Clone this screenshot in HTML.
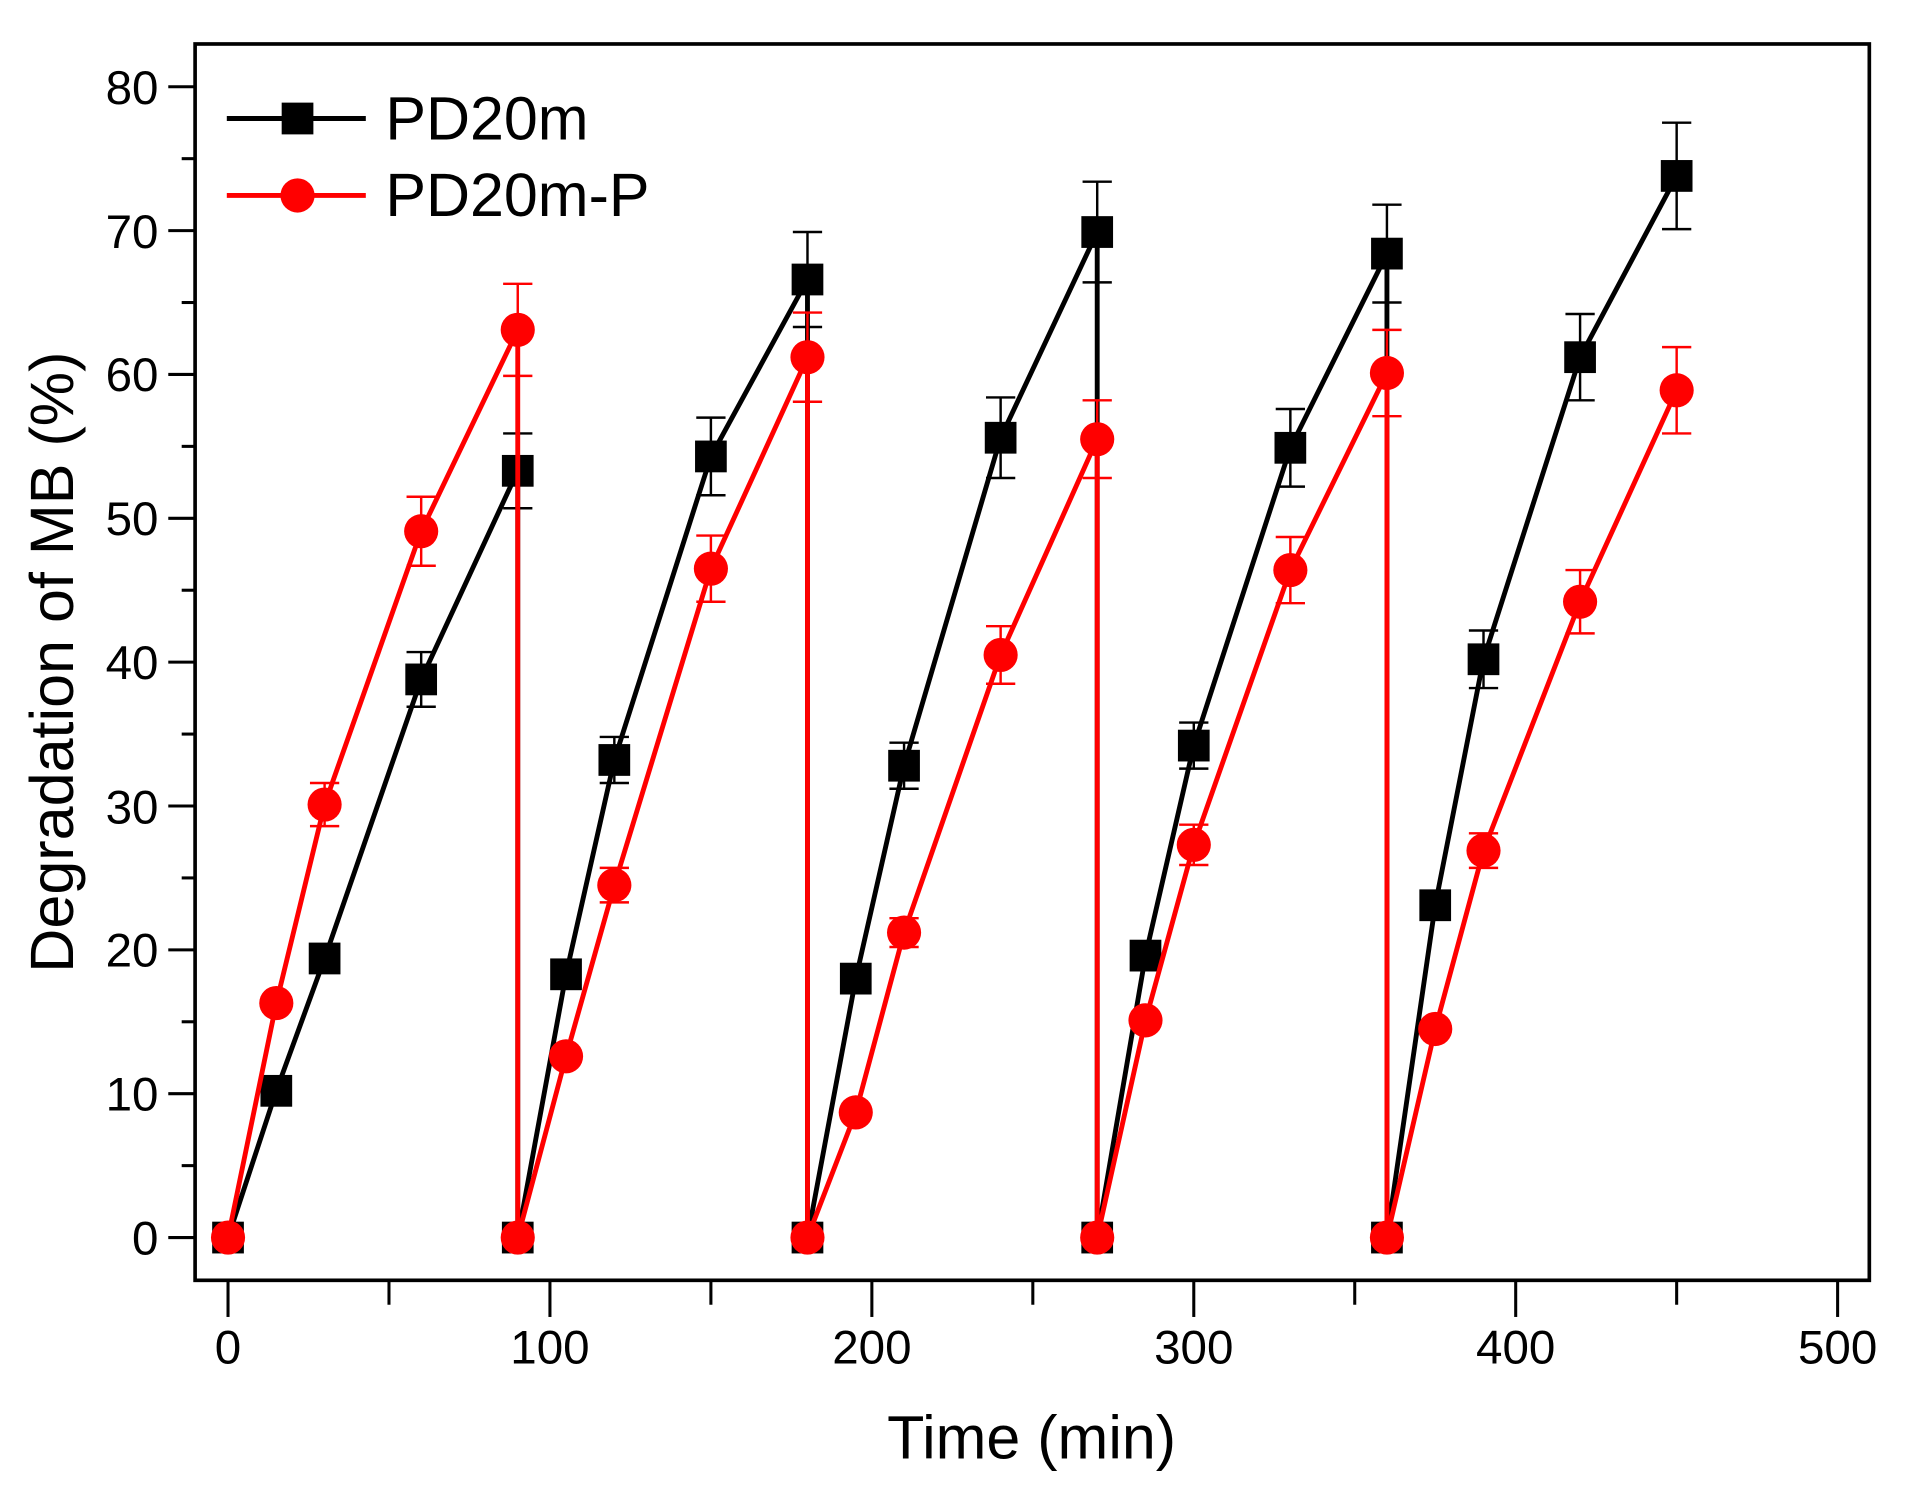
<!DOCTYPE html>
<html><head><meta charset="utf-8"><style>
html,body{margin:0;padding:0;background:#fff;}
svg{display:block;}
text{font-family:"Liberation Sans",Arial,sans-serif;fill:#000;}
</style></head><body>
<svg id="s" width="1912" height="1488" viewBox="0 0 1568 1218" preserveAspectRatio="none" xmlns="http://www.w3.org/2000/svg">
<rect x="0" y="0" width="1568" height="1218" fill="#fff"/>
<g id="data"></g>
<rect x="160" y="36" width="1373" height="1012" fill="none" stroke="#000" stroke-width="3"/>
<g id="ticks" stroke="#000" stroke-width="2.5"></g>
<g font-size="39" text-anchor="end">
<text x="130" y="1027">0</text>
<text x="130" y="909">10</text>
<text x="130" y="791">20</text>
<text x="130" y="674">30</text>
<text x="130" y="556">40</text>
<text x="130" y="438">50</text>
<text x="130" y="320">60</text>
<text x="130" y="203">70</text>
<text x="130" y="85">80</text>
</g>
<g font-size="39" text-anchor="middle">
<text x="187" y="1116">0</text>
<text x="451" y="1116">100</text>
<text x="715" y="1116">200</text>
<text x="979" y="1116">300</text>
<text x="1243" y="1116">400</text>
<text x="1507" y="1116">500</text>
</g>
<text x="846" y="1194" font-size="50" text-anchor="middle">Time (min)</text>
<text transform="translate(60,542) rotate(-90)" font-size="50" text-anchor="middle">Degradation of MB (%)</text>
<line x1="186" y1="97" x2="300" y2="97" stroke="#000" stroke-width="4"/>
<rect x="231" y="84" width="26" height="26" fill="#000"/>
<text x="316" y="114" font-size="50">PD20m</text>
<line x1="186" y1="160" x2="300" y2="160" stroke="#f00" stroke-width="4"/>
<ellipse cx="244" cy="160" rx="14" ry="14" fill="#f00"/>
<text x="316" y="177" font-size="50">PD20m-P</text>
</svg>
<script>
var NS="http://www.w3.org/2000/svg";
function X(t){return 187+2.64*t;}
function Y(v){return 1013-11.775*v;}
function el(p,n,a){var e=document.createElementNS(NS,n);for(var k in a)e.setAttribute(k,a[k]);p.appendChild(e);return e;}
var tk=document.getElementById('ticks');
for(var v=0;v<=80;v+=5){var y=Y(v);el(tk,'line',{x1:v%10==0?138:149,y1:y,x2:160,y2:y});}
for(var t=0;t<=500;t+=50){var x=X(t);el(tk,'line',{x1:x,y1:1048,x2:x,y2:t%100==0?1078:1068});}
var B=[[0,0,0],[15,10.2,0],[30,19.4,0],[60,38.8,1.9],[90,53.3,2.6],[90,0,0],[105,18.3,0],[120,33.2,1.6],[150,54.3,2.7],[180,66.6,3.3],[180,0,0],[195,18,0],[210,32.8,1.6],[240,55.6,2.8],[270,69.9,3.5],[270,0,0],[285,19.6,0],[300,34.2,1.6],[330,54.9,2.7],[360,68.4,3.4],[360,0,0],[375,23.1,0],[390,40.2,2],[420,61.2,3],[450,73.8,3.7]];
var R=[[0,0,0],[15,16.3,0],[30,30.1,1.5],[60,49.1,2.4],[90,63.1,3.2],[90,0,0],[105,12.6,0],[120,24.5,1.2],[150,46.5,2.3],[180,61.2,3.1],[180,0,0],[195,8.7,0],[210,21.2,1],[240,40.5,2],[270,55.5,2.7],[270,0,0],[285,15.1,0],[300,27.3,1.4],[330,46.4,2.3],[360,60.1,3],[360,0,0],[375,14.5,0],[390,26.9,1.2],[420,44.2,2.2],[450,58.9,3]];
var g=document.getElementById('data');
function series(D,c,sq){
 D.forEach(function(d){if(d[2]>0){var x=X(d[0]),y1=Y(d[1]-d[2]),y2=Y(d[1]+d[2]);
  el(g,'line',{x1:x,y1:y1,x2:x,y2:y2,stroke:c,'stroke-width':2});
  el(g,'line',{x1:x-12,y1:y1,x2:x+12,y2:y1,stroke:c,'stroke-width':2});
  el(g,'line',{x1:x-12,y1:y2,x2:x+12,y2:y2,stroke:c,'stroke-width':2});}});
 el(g,'polyline',{points:D.map(function(d){return X(d[0])+','+Y(d[1]);}).join(' '),fill:'none',stroke:c,'stroke-width':4,'stroke-linejoin':'round'});
 D.forEach(function(d){var x=X(d[0]),y=Y(d[1]);
  if(sq)el(g,'rect',{x:x-13,y:y-13,width:26,height:26,fill:c});
  else el(g,'ellipse',{cx:x,cy:y,rx:14,ry:14,fill:c});});
}
series(B,'#000',true);
series(R,'#f00',false);
</script>
</body></html>
